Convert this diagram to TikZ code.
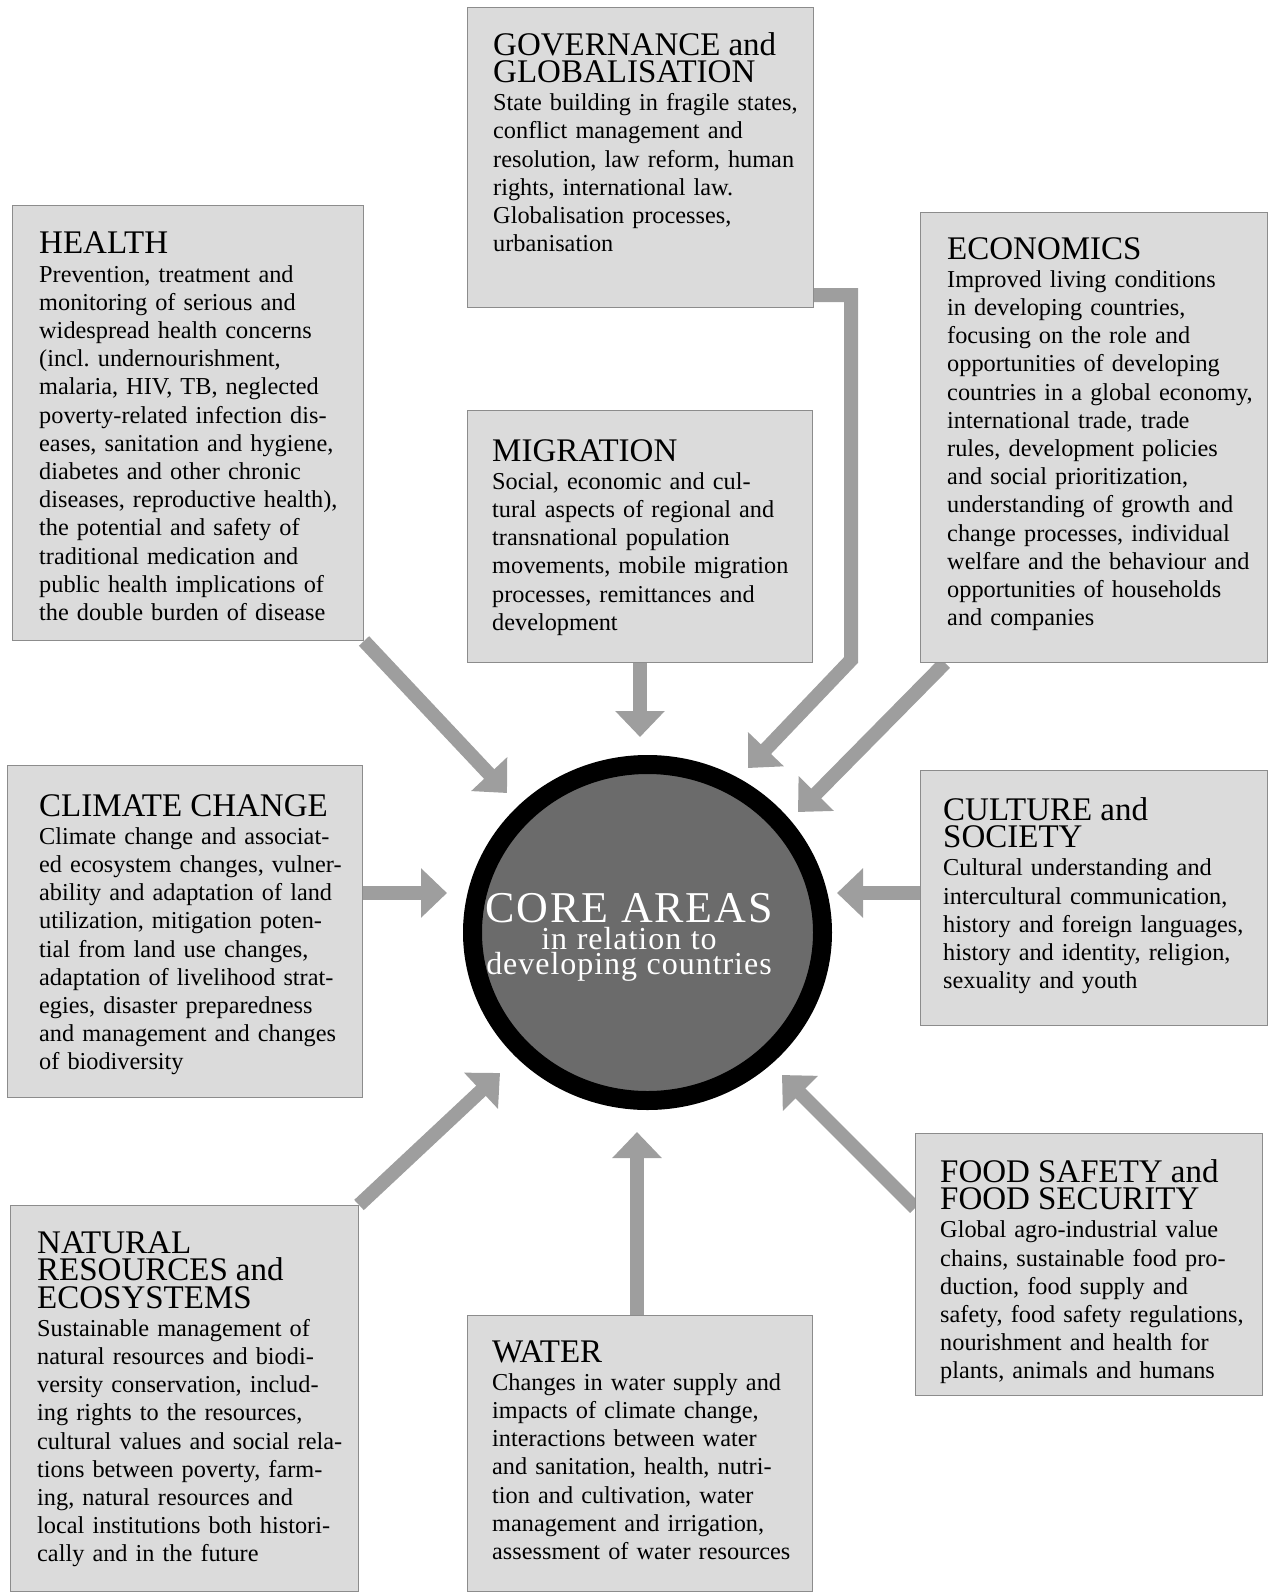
\documentclass[tikz,border=0pt]{standalone}
\usepackage{fontspec}
\setmainfont{Liberation Serif}
\usetikzlibrary{arrows.meta,shapes.geometric,backgrounds}
\newcommand{\boxtitle}[1]{{\fontsize{33}{27.5}\selectfont #1\par}}
\newcommand{\bodytext}{\fontsize{24.3}{28.2}\selectfont\frenchspacing}
\begin{document}
\begin{tikzpicture}[x=1pt,y=-1pt,
  panel/.style={draw=black!45, line width=1pt, fill=black!14, anchor=north west, inner sep=0pt},
  ptext/.style={anchor=north west, inner sep=0pt, align=left, text width=330pt, font=\bodytext},
  conn/.style={draw=black!38, line width=14pt, -{Triangle[width=48pt,length=26pt]}, line join=miter}]
\useasboundingbox (0,0) rectangle (1269,1592);

% boxes
\node[panel, minimum width=351pt, minimum height=435pt] (health) at (12,205) {};
\node[panel, minimum width=346pt, minimum height=300pt] (gov) at (467,7) {};
\node[panel, minimum width=345pt, minimum height=252pt] (mig) at (467,410) {};
\node[panel, minimum width=347pt, minimum height=450pt] (econ) at (920,212) {};
\node[panel, minimum width=355pt, minimum height=332pt] (clim) at (7,765) {};
\node[panel, minimum width=347pt, minimum height=255pt] (cult) at (920,770) {};
\node[panel, minimum width=347pt, minimum height=262pt] (food) at (915,1133) {};
\node[panel, minimum width=348pt, minimum height=386pt] (nat) at (10,1205) {};
\node[panel, minimum width=345pt, minimum height=276pt] (water) at (467,1315) {};

% texts
\node[ptext] (healthT) at (39,232) {\boxtitle{HEALTH}%
Prevention, treatment and\\
monitoring of serious and\\
widespread health concerns\\
(incl. undernourishment,\\
malaria, HIV, TB, neglected\\
poverty-related infection dis-\\
eases, sanitation and hygiene,\\
diabetes and other chronic\\
diseases, reproductive health),\\
the potential and safety of\\
traditional medication and\\
public health implications of\\
the double burden of disease};

\node[ptext] (govT) at (493,32) {\boxtitle{GOVERNANCE and\\GLOBALISATION}%
State building in fragile states,\\
conflict management and\\
resolution, law reform, human\\
rights, international law.\\
Globalisation processes,\\
urbanisation};

\node[ptext] (migT) at (492,439) {\boxtitle{MIGRATION}%
Social, economic and cul-\\
tural aspects of regional and\\
transnational population\\
movements, mobile migration\\
processes, remittances and\\
development};

\node[ptext] (econT) at (947,237) {\boxtitle{ECONOMICS}%
Improved living conditions\\
in developing countries,\\
focusing on the role and\\
opportunities of developing\\
countries in a global economy,\\
international trade, trade\\
rules, development policies\\
and social prioritization,\\
understanding of growth and\\
change processes, individual\\
welfare and the behaviour and\\
opportunities of households\\
and companies};

\node[ptext] (climT) at (39,794) {\boxtitle{CLIMATE CHANGE}%
Climate change and associat-\\
ed ecosystem changes, vulner-\\
ability and adaptation of land\\
utilization, mitigation poten-\\
tial from land use changes,\\
adaptation of livelihood strat-\\
egies, disaster preparedness\\
and management and changes\\
of biodiversity};

\node[ptext] (cultT) at (943,797) {\boxtitle{CULTURE and\\SOCIETY}%
Cultural understanding and\\
intercultural communication,\\
history and foreign languages,\\
history and identity, religion,\\
sexuality and youth};

\node[ptext] (foodT) at (940,1159) {\boxtitle{FOOD SAFETY and\\FOOD SECURITY}%
Global agro-industrial value\\
chains, sustainable food pro-\\
duction, food supply and\\
safety, food safety regulations,\\
nourishment and health for\\
plants, animals and humans};

\node[ptext] (natT) at (37,1231) {\boxtitle{NATURAL\\RESOURCES and\\ECOSYSTEMS}%
Sustainable management of\\
natural resources and biodi-\\
versity conservation, includ-\\
ing rights to the resources,\\
cultural values and social rela-\\
tions between poverty, farm-\\
ing, natural resources and\\
local institutions both histori-\\
cally and in the future};

\node[ptext] (waterT) at (492,1340) {\boxtitle{WATER}%
Changes in water supply and\\
impacts of climate change,\\
interactions between water\\
and sanitation, health, nutri-\\
tion and cultivation, water\\
management and irrigation,\\
assessment of water resources};

% core circle
\node[draw=black, line width=19pt, fill=black!58, ellipse, minimum width=350pt, minimum height=336pt, inner sep=0pt] (core) at (647.5,932.5) {};
\node[text=white, align=center, text width=330pt, anchor=north, inner sep=0pt] (coreT) at (629,893)
  {{\fontsize{44}{44}\selectfont\addfontfeature{LetterSpace=4}\spaceskip=0.3em\relax CORE AREAS\par}\vspace{2pt}%
   {\fontsize{32}{25}\selectfont\addfontfeature{LetterSpace=3}\spaceskip=0.3em\relax in relation to\\developing countries\par}};

% arrow tips
\coordinate (tipH) at (507,793);
\coordinate (tipM) at (640,737);
\coordinate (tipG) at (748,768);
\coordinate (bendG) at (851,660);
\coordinate (tipE) at (798,812);
\coordinate (tipCl) at (447,893);
\coordinate (tipCu) at (837,893);
\coordinate (tipN) at (500,1073);
\coordinate (tipW) at (637,1132);
\coordinate (tipF) at (782,1075);

\begin{scope}[on background layer]
\draw[conn] (health.south east) -- (tipH);
\draw[conn] (tipM |- mig.south) -- (tipM);
\draw[conn] ([yshift=13pt]gov.south east) -| (bendG) -- (tipG);
\draw[conn] ([xshift=25pt]econ.south west) -- (tipE);
\draw[conn] (tipCl -| clim.east) -- (tipCl);
\draw[conn] (tipCu -| cult.west) -- (tipCu);
\draw[conn] (nat.north east) -- (tipN);
\draw[conn] (tipW |- water.north) -- (tipW);
\draw[conn] ([yshift=-75pt]food.north west) -- (tipF);
\end{scope}
\end{tikzpicture}
\end{document}
